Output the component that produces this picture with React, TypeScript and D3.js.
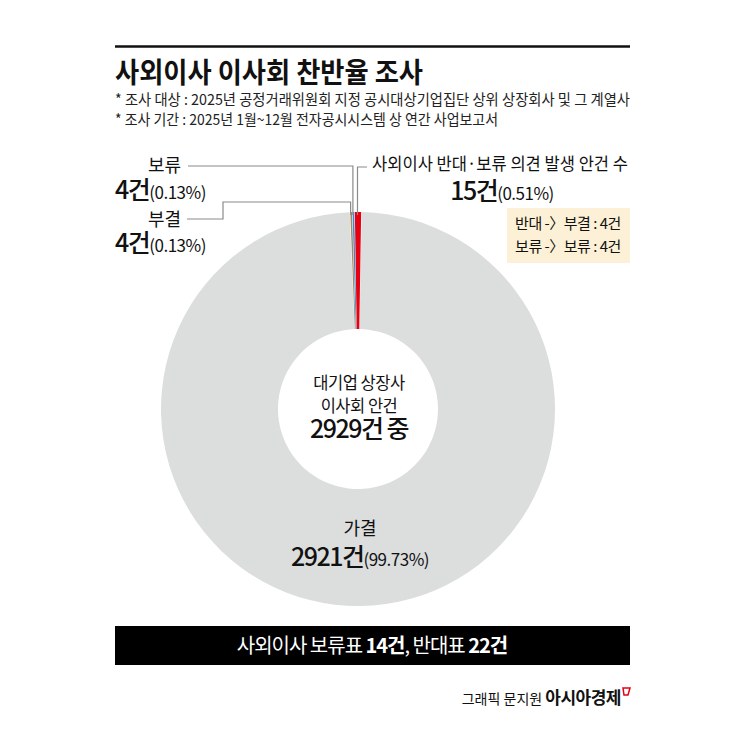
import * as d3 from 'd3';
import React from 'react';

// 안건 결과 (가결 / 부결 / 보류)
const sliceNames = ['가결', '부결', '보류'];
const sliceCounts = [2921, 4, 4];
const slicePcts = ['99.73%', '0.13%', '0.13%'];
const sliceColors = ['#dcdddd', '#a58665', '#3c86cf'];

// 사외이사 반대·보류 의견 발생 안건
const flaggedCount = 15;
const flaggedPct = '0.51%';
const flaggedColor = '#e60012';

const boxLines = ['반대 -〉부결 : 4건', '보류 -〉보류 : 4건'];
const notes = [
  '* 조사 대상 : 2025년 공정거래위원회 지정 공시대상기업집단 상위 상장회사 및 그 계열사',
  '* 조사 기간 : 2025년 1월~12월 전자공시시스템 상 연간 사업보고서',
];

const W = 745;
const font = '"Noto Sans CJK KR", "Noto Sans", sans-serif';
const cx = 358;
const cy = 409;
const outerR = 197;
const innerR = 80;

const App = () => {
  const total = d3.sum(sliceCounts);
  const toAngle = d3.scaleLinear().domain([0, total]).range([0, Math.PI * 2]);
  const minAngle = 0.0085; // keep hairline slices visible
  const sep = 0.003;

  // red wedge centred on 12 o'clock, thin slices laid out leftwards from it
  const redA = toAngle(flaggedCount);
  const red = { startAngle: -redA / 2, endAngle: redA / 2 };
  const thin: { startAngle: number; endAngle: number; i: number }[] = [];
  let cursor = red.startAngle - sep;
  for (let i = sliceCounts.length - 1; i >= 1; i--) {
    const a = Math.max(toAngle(sliceCounts[i]), minAngle);
    thin.push({ startAngle: cursor - a, endAngle: cursor, i });
    cursor -= a + sep;
  }

  const pie = d3
    .pie<number>()
    .sort(null)
    .startAngle(red.endAngle + sep)
    .endAngle(cursor + Math.PI * 2);
  const gray = pie([sliceCounts[0]])[0];

  const arc = d3.arc<any>().innerRadius(innerR).outerRadius(outerR);

  const topY = cy - outerR + 3;
  const midX = (s: { startAngle: number; endAngle: number }) =>
    cx + outerR * Math.sin((s.startAngle + s.endAngle) / 2);
  const blueX = midX(thin[0]) - 0.5;
  const brownX = midX(thin[1]) - 0.5;
  const redX = midX(red) - 0.5;

  const big = (n: string, pct: string, x: number, y: number, anchor: string) => (
    <text x={x} y={y} textAnchor={anchor} fontFamily={font} fill="#111">
      <tspan fontSize={25} fontWeight={500} letterSpacing={-1.5}>{n}</tspan>
      <tspan fontSize={17} letterSpacing={-0.5}>({pct})</tspan>
    </text>
  );

  return (
    <svg width={W} height={W} style={{ position: 'absolute', left: 0, top: 0, background: '#fff' }}>
      <rect width={W} height={W} fill="#fff" />
      {/* header */}
      <line x1={115} x2={630} y1={46.5} y2={46.5} stroke="#111" strokeWidth={2.5} />
      <text x={115} y={83} fontFamily={font} fontSize={28} fontWeight={700} fill="#111"
        textLength={308} lengthAdjust="spacingAndGlyphs">사외이사 이사회 찬반율 조사</text>
      <text x={115} y={105} fontFamily={font} fontSize={15} fill="#222"
        textLength={515} lengthAdjust="spacingAndGlyphs">{notes[0]}</text>
      <text x={115} y={125} fontFamily={font} fontSize={15} fill="#222"
        textLength={383} lengthAdjust="spacingAndGlyphs">{notes[1]}</text>

      {/* donut */}
      <g transform={`translate(${cx},${cy})`}>
        <path d={arc(gray) || ''} fill={sliceColors[0]} />
        {thin.map((s) => (
          <path key={s.i} d={arc(s) || ''} fill={sliceColors[s.i]} />
        ))}
        <path d={arc(red) || ''} fill={flaggedColor} />
      </g>

      {/* leader lines */}
      <path d={`M188,166H${blueX}V${topY}`} fill="none" stroke="#8a8a8a" strokeWidth={1.2} />
      <path d={`M187,219H223V202H${brownX}V${topY}`} fill="none" stroke="#8a8a8a" strokeWidth={1.2} />
      <path d={`M367,167H${redX}V${topY}`} fill="none" stroke="#8a8a8a" strokeWidth={1.2} />

      {/* left labels */}
      <text x={181} y={172} textAnchor="end" fontFamily={font} fontSize={18} fill="#111">{sliceNames[2]}</text>
      {big(`${sliceCounts[2]}건`, slicePcts[2], 115, 199, 'start')}
      <text x={181} y={226} textAnchor="end" fontFamily={font} fontSize={18} fill="#111">{sliceNames[1]}</text>
      {big(`${sliceCounts[1]}건`, slicePcts[1], 115, 252, 'start')}

      {/* right labels */}
      <text x={372} y={170} fontFamily={font} fontSize={17} fill="#111"
        textLength={256} lengthAdjust="spacingAndGlyphs">사외이사 반대·보류 의견 발생 안건 수</text>
      {big(`${flaggedCount}건`, flaggedPct, 502, 200, 'middle')}
      <rect x={507} y={208} width={123} height={55} fill="#fcf1d6" />
      {boxLines.map((t, i) => (
        <text key={i} x={568} y={229 + i * 23} textAnchor="middle" fontFamily={font} fontSize={15} fill="#111"
          letterSpacing={-0.5}>{t}</text>
      ))}

      {/* center */}
      <text x={359} y={389} textAnchor="middle" fontFamily={font} fontSize={16.5} fill="#111" letterSpacing={-0.5}>대기업 상장사</text>
      <text x={359} y={412} textAnchor="middle" fontFamily={font} fontSize={16.5} fill="#111" letterSpacing={-0.5}>이사회 안건</text>
      <text x={359} y={438} textAnchor="middle" fontFamily={font} fontSize={25} fontWeight={500} fill="#111" letterSpacing={-1.5}>
        {`${total}건 중`}
      </text>

      {/* 가결 */}
      <text x={360} y={535} textAnchor="middle" fontFamily={font} fontSize={18} fill="#111">{sliceNames[0]}</text>
      {big(`${sliceCounts[0]}건`, slicePcts[0], 360, 566, 'middle')}

      {/* bottom band */}
      <rect x={115} y={626} width={515} height={39} fill="#000" />
      <text x={372} y={653} textAnchor="middle" fontFamily={font} fontSize={20} fill="#fff" letterSpacing={-1}>
        사외이사 보류표 <tspan fontWeight={700}>14건</tspan>, 반대표 <tspan fontWeight={700}>22건</tspan>
      </text>

      {/* credit */}
      <text x={621} y={704} textAnchor="end" fontFamily={font} fill="#111">
        <tspan fontSize={14}>그래픽 문지원 </tspan>
        <tspan fontSize={17} fontWeight={700} letterSpacing={-0.5}>아시아경제</tspan>
      </text>
      <path d="M623,688H630L628,695H624Z" fill="none" stroke={flaggedColor} strokeWidth={1.5} />
    </svg>
  );
};

export default App;
